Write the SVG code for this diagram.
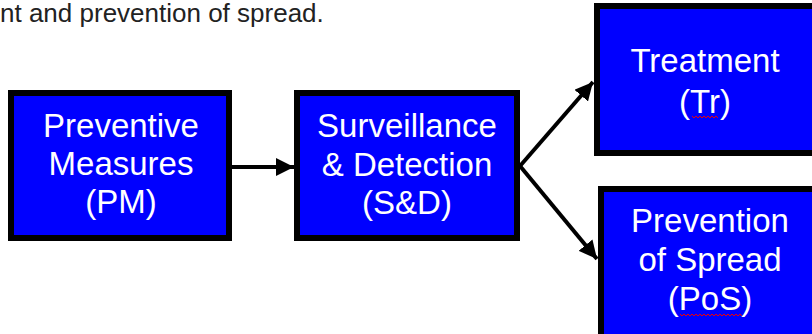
<svg xmlns="http://www.w3.org/2000/svg" width="812" height="334" viewBox="0 0 812 334">
<style>
.box{fill:#0000ff;stroke:#000;stroke-width:6}
.lbl{font-family:"Liberation Sans",Arial,Helvetica,sans-serif;font-size:33px;fill:#fff;text-anchor:middle}
.title{font-family:"Liberation Sans",Arial,Helvetica,sans-serif;font-size:26px;fill:#222}
.conn{stroke:#000;stroke-width:4;fill:none}
.squig{stroke:#e00;stroke-width:1;fill:none}
</style>
<defs>
<marker id="ah" markerUnits="userSpaceOnUse" markerWidth="20" markerHeight="18" refX="18" refY="9" orient="auto">
<path d="M0,0 L18,9 L0,18 Z" fill="#000"/>
</marker>
</defs>
<rect width="812" height="334" fill="#fff"/>
<text class="title" x="0" y="22">nt and prevention of spread.</text>
<g id="connectors">
<line class="conn" x1="232" y1="167" x2="294" y2="167" marker-end="url(#ah)"/>
<line class="conn" x1="520" y1="166" x2="593" y2="82" marker-end="url(#ah)"/>
<line class="conn" x1="520" y1="166" x2="597" y2="259" marker-end="url(#ah)"/>
</g>
<g id="pm">
<rect class="box" x="11" y="93" width="218" height="145"/>
<text class="lbl" x="121" y="137">Preventive</text>
<text class="lbl" x="121" y="175">Measures</text>
<text class="lbl" x="121" y="213">(PM)</text>
</g>
<g id="sd">
<rect class="box" x="297" y="93" width="220" height="145"/>
<text class="lbl" x="407" y="137">Surveillance</text>
<text class="lbl" x="407" y="176">&amp; Detection</text>
<text class="lbl" x="407" y="214">(S&amp;D)</text>
</g>
<g id="tr">
<rect class="box" x="597" y="6" width="240" height="147"/>
<text class="lbl" x="705" y="72">Treatment</text>
<text class="lbl" x="705" y="113">(Tr)</text>
<polyline class="squig" points="692,116 694,118 696,116 698,118 700,116 702,118 704,116 706,118 708,116 710,118 712,116 714,118 716,116 718,118"/>
</g>
<g id="pos">
<rect class="box" x="601" y="189" width="240" height="160"/>
<text class="lbl" x="710" y="232">Prevention</text>
<text class="lbl" x="710" y="271">of Spread</text>
<text class="lbl" x="710" y="310">(PoS)</text>
<polyline class="squig" points="680,314 682,316 684,314 686,316 688,314 690,316 692,314 694,316 696,314 698,316 700,314 702,316 704,314 706,316 708,314 710,316 712,314 714,316 716,314 718,316 720,314 722,316 724,314 726,316 728,314 730,316 732,314 734,316 736,314 738,316 740,314 742,316"/>
</g>
</svg>
